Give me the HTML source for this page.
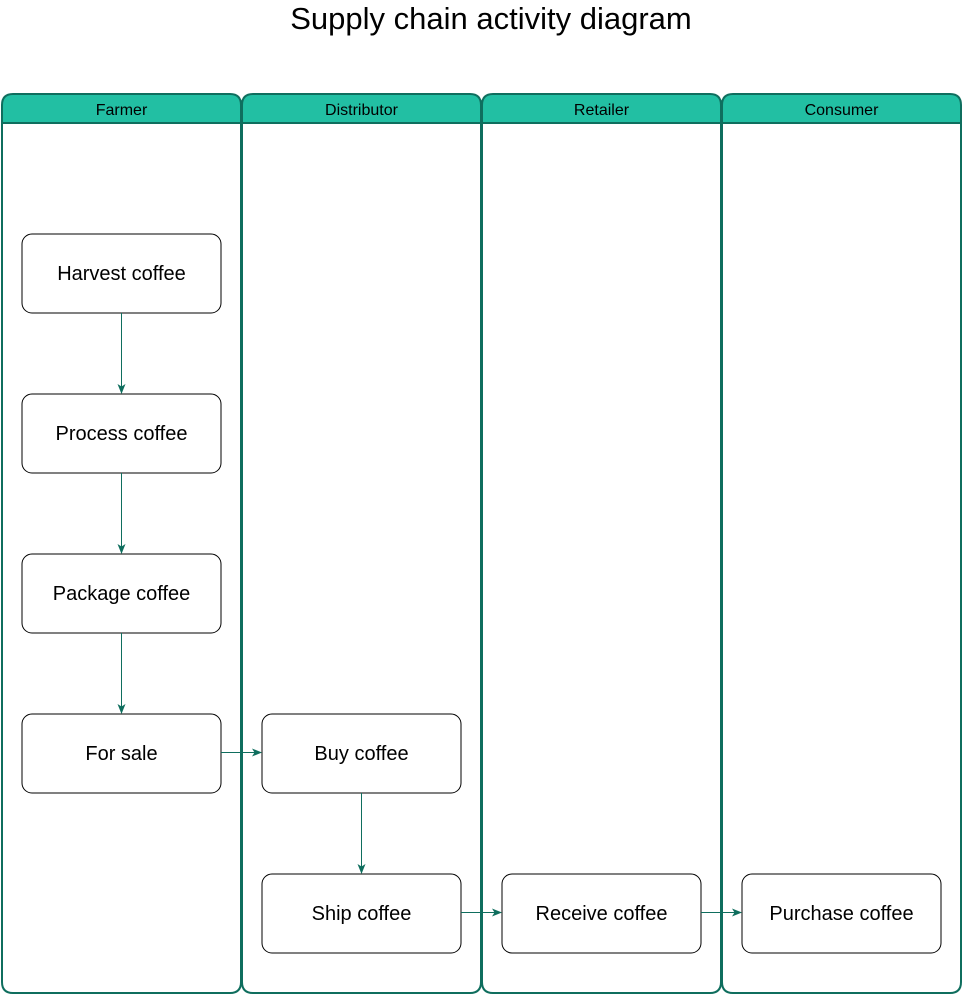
<!DOCTYPE html>
<html><head><style>body{margin:0;background:#fff}svg{display:block}</style></head><body>
<svg width="963" height="995" xmlns="http://www.w3.org/2000/svg" font-family="Liberation Sans, Arial, sans-serif">
<defs><marker id="a" markerWidth="10" markerHeight="10" refX="9" refY="5" orient="auto" markerUnits="userSpaceOnUse"><path d="M0,1 L10,5 L0,9 L2.5,5 Z" fill="#0f6e5e"/></marker></defs>
<text x="491" y="29" font-size="31" text-anchor="middle" fill="#000">Supply chain activity diagram</text>
<g stroke="#0f6e5e" stroke-width="2">
<g id="l">
<path d="M2,123 V105 Q2,94 13,94 H230 Q241,94 241,105 V123 Z" fill="#22bfa3"/>
<path d="M2,123 V982 Q2,993 13,993 H230 Q241,993 241,982 V123" fill="none"/>
</g>
<use href="#l" x="240"/><use href="#l" x="480"/><use href="#l" x="720"/>
</g>
<g font-size="16" text-anchor="middle" fill="#000">
<text x="121.5" y="115">Farmer</text><text x="361.5" y="115">Distributor</text><text x="601.5" y="115">Retailer</text><text x="841.5" y="115">Consumer</text>
</g>
<g fill="#fff" stroke="#000" stroke-width="1">
<rect x="22" y="234" width="199" height="79" rx="10"/>
<rect x="22" y="394" width="199" height="79" rx="10"/>
<rect x="22" y="554" width="199" height="79" rx="10"/>
<rect x="22" y="714" width="199" height="79" rx="10"/>
<rect x="262" y="714" width="199" height="79" rx="10"/>
<rect x="262" y="874" width="199" height="79" rx="10"/>
<rect x="502" y="874" width="199" height="79" rx="10"/>
<rect x="742" y="874" width="199" height="79" rx="10"/>
</g>
<g font-size="20" text-anchor="middle" fill="#000">
<text x="121.5" y="280">Harvest coffee</text>
<text x="121.5" y="440">Process coffee</text>
<text x="121.5" y="600">Package coffee</text>
<text x="121.5" y="760">For sale</text>
<text x="361.5" y="760">Buy coffee</text>
<text x="361.5" y="920">Ship coffee</text>
<text x="601.5" y="920">Receive coffee</text>
<text x="841.5" y="920">Purchase coffee</text>
</g>
<g stroke="#0f6e5e" stroke-width="1" fill="none" marker-end="url(#a)">
<line x1="121.5" y1="313" x2="121.5" y2="393"/>
<line x1="121.5" y1="473" x2="121.5" y2="553"/>
<line x1="121.5" y1="633" x2="121.5" y2="713"/>
<line x1="221" y1="752.5" x2="261" y2="752.5"/>
<line x1="361.5" y1="793" x2="361.5" y2="873"/>
<line x1="461" y1="912.5" x2="501" y2="912.5"/>
<line x1="701" y1="912.5" x2="741" y2="912.5"/>
</g>
</svg>
</body></html>
